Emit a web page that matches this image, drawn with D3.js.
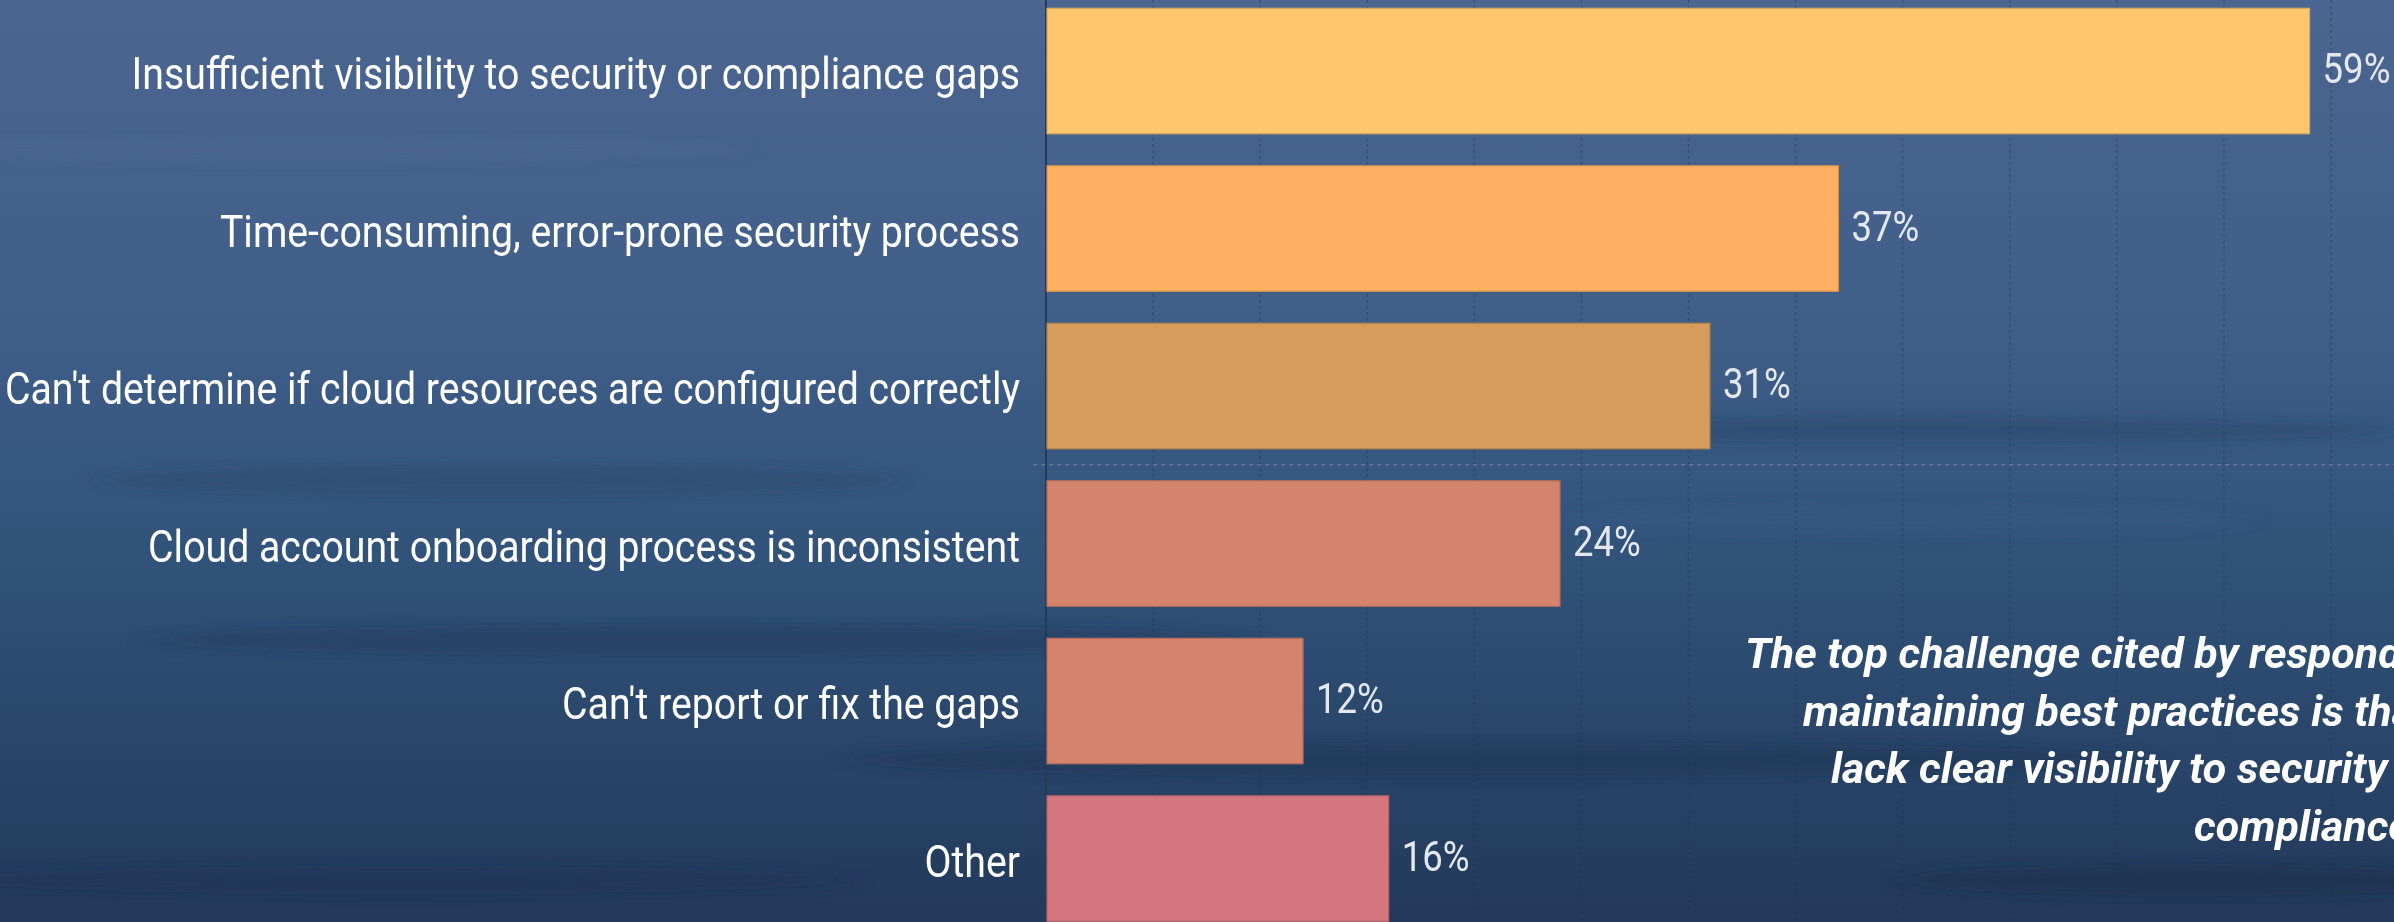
<!DOCTYPE html>
<html>
<head>
<meta charset="utf-8">
<script src="https://cdn.jsdelivr.net/npm/d3@7"></script>
<style>
  html, body { margin: 0; padding: 0; background: #2c4768; overflow: hidden; }
  svg { display: block; }
</style>
</head>
<body>
<div id="chart"></div>
<script>
// challenges, top to bottom
const categories = [
  'Insufficient visibility to security or compliance gaps',
  'Time-consuming, error-prone security process',
  "Can't determine if cloud resources are configured correctly",
  'Cloud account onboarding process is inconsistent',
  "Can't report or fix the gaps",
  'Other'
];
const values = [59, 37, 31, 24, 12, 16];
const barColors = ['#ffc66e', '#ffb061', '#d69c5c', '#d6836d', '#d6836d', '#d4767e'];
const gridTicks = [0, 5, 10, 15, 20, 25, 30, 35, 40, 45, 50, 55, 60];
const noteLines = [
  'The top challenge cited by respondents in',
  'maintaining best practices is that they',
  'lack clear visibility to security and',
  'compliance gaps.'
];

const width = 2394, height = 922;
const axisX = 1046;

const svg = d3.select('#chart').append('svg')
  .attr('width', width)
  .attr('height', height);

const defs = svg.append('defs');
const bg = defs.append('linearGradient')
  .attr('id', 'water')
  .attr('x1', 0).attr('y1', 0).attr('x2', 0).attr('y2', 1);
bg.append('stop').attr('offset', '0%').attr('stop-color', '#4b6690');
bg.append('stop').attr('offset', '35%').attr('stop-color', '#3f5e88');
bg.append('stop').attr('offset', '60%').attr('stop-color', '#31537a');
bg.append('stop').attr('offset', '100%').attr('stop-color', '#22395a');

defs.append('filter').attr('id', 'soft')
  .attr('x', '-20%').attr('y', '-200%').attr('width', '140%').attr('height', '500%')
  .append('feGaussianBlur').attr('stdDeviation', '14 6');

svg.append('rect')
  .attr('width', width)
  .attr('height', height)
  .attr('fill', 'url(#water)');

// a few soft streaks for the water surface
const streaks = [
  [300, 150, 900, 10, '#5a74a0', 0.2],
  [1900, 430, 1000, 12, '#233c5c', 0.3],
  [500, 480, 800, 14, '#264466', 0.35],
  [1900, 520, 700, 14, '#3a5e88', 0.3],
  [700, 640, 1100, 16, '#1f3654', 0.35],
  [1500, 760, 1300, 18, '#1d3150', 0.4],
  [400, 880, 900, 14, '#1c3250', 0.4],
  [2200, 880, 600, 16, '#1a2e48', 0.45]
];
svg.append('g')
  .attr('filter', 'url(#soft)')
  .selectAll('ellipse')
  .data(streaks)
  .join('ellipse')
    .attr('cx', d => d[0])
    .attr('cy', d => d[1])
    .attr('rx', d => d[2] / 2)
    .attr('ry', d => d[3])
    .attr('fill', d => d[4])
    .attr('opacity', d => d[5]);

const x = d3.scaleLinear()
  .domain([0, 60])
  .range([axisX, 2331]);

const y = d3.scaleBand()
  .domain(categories)
  .range([-7.7, 937.3])
  .paddingInner(0.203)
  .paddingOuter(0.1015);

// squeeze text a little, the original face is narrower than Roboto
function condense(sel, k) {
  sel.each(function() {
    const len = this.getComputedTextLength();
    d3.select(this)
      .attr('textLength', len * k)
      .attr('lengthAdjust', 'spacingAndGlyphs');
  });
}

// vertical grid
svg.append('g')
  .attr('class', 'grid')
  .selectAll('line')
  .data(gridTicks)
  .join('line')
    .attr('x1', d => x(d))
    .attr('x2', d => x(d))
    .attr('y1', 0)
    .attr('y2', height)
    .attr('stroke', '#1c3150')
    .attr('stroke-opacity', 0.35)
    .attr('stroke-width', 1.5)
    .attr('stroke-dasharray', '3,3');

// horizontal dashed guide between the third and fourth bar
const midY = (y(categories[2]) + y.bandwidth() + y(categories[3])) / 2;
svg.append('line')
  .attr('x1', axisX - 13)
  .attr('x2', width)
  .attr('y1', midY)
  .attr('y2', midY)
  .attr('stroke', '#8796ab')
  .attr('stroke-opacity', 0.55)
  .attr('stroke-width', 1.5)
  .attr('stroke-dasharray', '4,4');

svg.append('line')
  .attr('x1', axisX)
  .attr('x2', axisX)
  .attr('y1', 0)
  .attr('y2', height)
  .attr('stroke', '#233a58')
  .attr('stroke-width', 2);

// bars
svg.append('g')
  .selectAll('rect')
  .data(values)
  .join('rect')
    .attr('x', x(0) + 1)
    .attr('y', (d, i) => y(categories[i]))
    .attr('width', d => x(d) - x(0) - 1)
    .attr('height', y.bandwidth())
    .attr('fill', (d, i) => barColors[i])
    .attr('stroke', (d, i) => d3.color(barColors[i]).darker(0.5))
    .attr('stroke-width', 1.2);

// category labels
svg.append('g')
  .selectAll('text')
  .data(categories)
  .join('text')
    .attr('x', axisX - 26)
    .attr('y', d => y(d) + y.bandwidth() / 2 + 18)
    .attr('text-anchor', 'end')
    .attr('font-family', 'Roboto, sans-serif')
    .attr('font-size', 45)
    .attr('fill', '#ffffff')
    .text(d => d)
    .call(condense, 0.872);

// value labels
svg.append('g')
  .selectAll('text')
  .data(values)
  .join('text')
    .attr('x', d => x(d) + 13)
    .attr('y', (d, i) => y(categories[i]) + y.bandwidth() / 2 + 12)
    .attr('font-family', 'Roboto, sans-serif')
    .attr('font-size', 43)
    .attr('fill', '#e4e8ee')
    .text(d => d + '%')
    .call(condense, 0.85);

// note on the right, it runs past the edge of the picture
const noteStarts = [1745, 1803, 1831, 2194];
svg.append('g')
  .attr('font-family', 'Roboto, sans-serif')
  .attr('font-size', 43)
  .attr('font-weight', 'bold')
  .attr('font-style', 'italic')
  .attr('fill', '#ffffff')
  .selectAll('text')
  .data(noteLines)
  .join('text')
    .attr('x', (d, i) => noteStarts[i])
    .attr('y', (d, i) => 668 + i * 57.5)
    .text(d => d);
</script>
</body>
</html>
